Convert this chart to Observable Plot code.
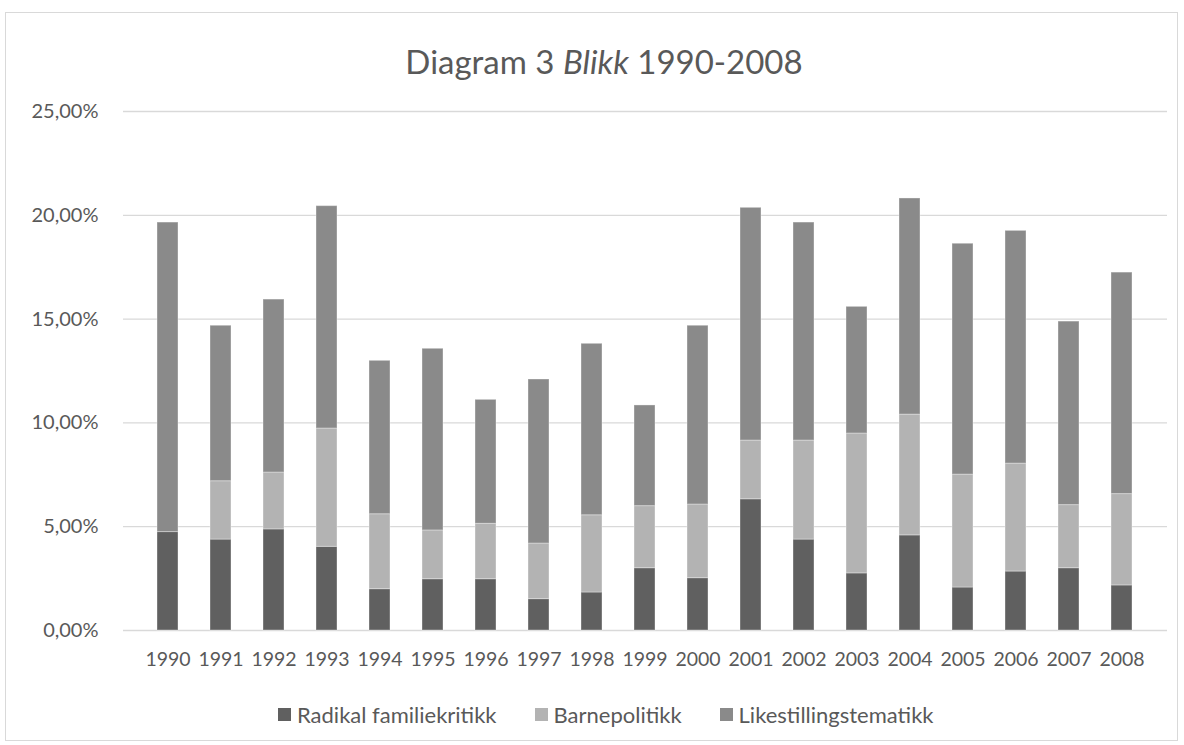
<!DOCTYPE html>
<html>
<head>
<meta charset="utf-8">
<script src="https://cdn.jsdelivr.net/npm/d3@7"></script>
<script src="https://cdn.jsdelivr.net/npm/@observablehq/plot@0.6"></script>
<style>
  html, body { margin: 0; padding: 0; background: #fff; }
  body { width: 1184px; height: 745px; position: relative; overflow: hidden; font-family: Lato, "Open Sans", sans-serif; }
  #frame { position: absolute; left: 5px; top: 12px; width: 1173px; height: 729px; border: 1px solid #d9d9d9; box-sizing: border-box; }
  #title { position: absolute; left: 0; width: 1208px; top: 41px; text-align: center; font-size: 33px; color: #595959; white-space: nowrap; }
  #chart { position: absolute; left: 0; top: 90px; }
  #legend { position: absolute; top: 700px; left: 278px; height: 28px; display: flex; align-items: center; font-size: 22px; color: #595959; white-space: nowrap; }
  .item { display: flex; align-items: center; margin-right: 38px; }
  .sw { width: 13px; height: 13px; margin-right: 6px; }
</style>
</head>
<body>
<div id="frame"></div>
<div id="title">Diagram 3 <i>Blikk</i> 1990-2008</div>
<div id="chart"></div>
<div id="legend"></div>
<script>
const years = ["1990","1991","1992","1993","1994","1995","1996","1997","1998","1999","2000","2001","2002","2003","2004","2005","2006","2007","2008"];
const seriesNames = ["Radikal familiekritikk", "Barnepolitikk", "Likestillingstematikk"];
const seriesColors = ["#606060", "#b3b3b3", "#8a8a8a"];
const radikal = [4.74,4.38,4.87,4.03,1.99,2.47,2.47,1.51,1.83,3.00,2.52,6.32,4.38,2.75,4.58,2.07,2.84,3.00,2.17];
const barne   = [0.00,2.81,2.74,5.70,3.61,2.35,2.67,2.68,3.72,2.99,3.55,2.83,4.77,6.74,5.82,5.44,5.20,3.04,4.40];
const likest  = [14.91,7.49,8.33,10.71,7.39,8.75,5.97,7.90,8.26,4.85,8.61,11.21,10.50,6.10,10.41,11.12,11.21,8.84,10.67];
const yTicks = [0, 5, 10, 15, 20, 25];

const seriesValues = [radikal, barne, likest];
const data = [];
seriesValues.forEach((vals, si) => {
  years.forEach((yr, i) => data.push({year: yr, series: seriesNames[si], value: vals[i]}));
});

const fmt = d => d.toFixed(2).replace(".", ",") + "%";

const plot = Plot.plot({
  width: 1184,
  height: 590,
  marginTop: 21,
  marginBottom: 50,
  marginLeft: 123,
  marginRight: 17,
  style: { fontFamily: "Lato, 'Open Sans', sans-serif", fontSize: "19.5px", color: "#595959", background: "transparent" },
  x: { domain: years, padding: 0.6, label: null, tickSize: 0, tickPadding: 22 },
  y: { domain: [0, 25], ticks: yTicks, tickFormat: fmt, label: null, tickSize: 0, tickPadding: 25 },
  color: { domain: seriesNames, range: seriesColors },
  marks: [
    Plot.gridY(yTicks, { stroke: "#d9d9d9", strokeOpacity: 1, strokeWidth: 1.3 }),
    Plot.barY(data, { x: "year", y: "value", fill: "series", stroke: "#ffffff", strokeOpacity: 0.35, strokeWidth: 1 }),
    Plot.axisX({ tickSize: 0, tickPadding: 22, fontSize: 19.5 }),
    Plot.axisY({ ticks: yTicks, tickFormat: fmt, tickSize: 0, tickPadding: 25, fontSize: 20 })
  ]
});
document.getElementById("chart").appendChild(plot);

const legend = document.getElementById("legend");
seriesNames.forEach((name, i) => {
  const item = document.createElement("div");
  item.className = "item";
  const sw = document.createElement("div");
  sw.className = "sw";
  sw.style.background = seriesColors[i];
  const label = document.createElement("span");
  label.textContent = name;
  item.appendChild(sw);
  item.appendChild(label);
  legend.appendChild(item);
});
</script>
</body>
</html>
